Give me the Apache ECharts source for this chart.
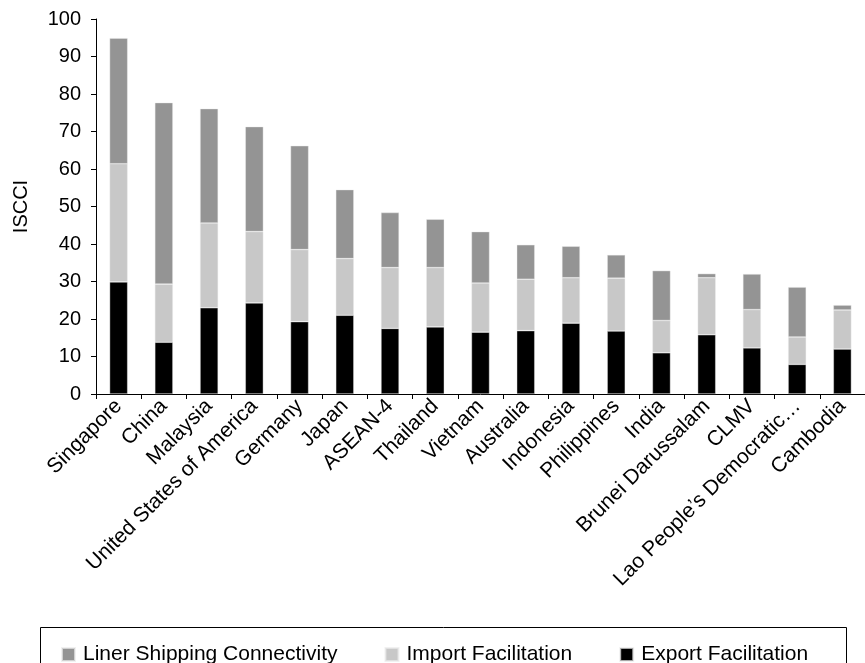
<!DOCTYPE html>
<html>
<head>
<meta charset="utf-8">
<style>
  html, body { margin: 0; padding: 0; background: #ffffff; }
  #chart { width: 865px; height: 663px; }
</style>
<script src="https://cdn.jsdelivr.net/npm/echarts@6/dist/echarts.min.js"></script>
</head>
<body>
<div id="chart"></div>
<script>
// Economies, ordered by overall index
const categories = [
  'Singapore', 'China', 'Malaysia', 'United States of America', 'Germany',
  'Japan', 'ASEAN-4', 'Thailand', 'Vietnam', 'Australia', 'Indonesia',
  'Philippines', 'India', 'Brunei Darussalam', 'CLMV',
  'Lao People\u2019s Democratic\u2026', 'Cambodia'
];

// Component contributions (stacked bottom to top)
const exportFacilitation = [29.9, 13.8, 23.0, 24.3, 19.3, 21.0, 17.5, 17.9, 16.5, 16.9, 18.9, 16.8, 11.0, 15.8, 12.3, 7.9, 12.0];
const importFacilitation = [31.5, 15.5, 22.6, 19.0, 19.2, 15.1, 16.2, 15.8, 13.1, 13.7, 12.1, 14.1, 8.6, 15.2, 10.2, 7.3, 10.4];
const linerShipping = [33.5, 48.4, 30.5, 28.0, 27.7, 18.4, 14.7, 12.9, 13.7, 9.2, 8.4, 6.2, 13.3, 1.1, 9.5, 13.3, 1.3];

const yTicks = { min: 0, max: 100, interval: 10 };

const FONT = '"Liberation Sans", Arial, Helvetica, sans-serif';
const COLORS = { liner: '#949494', import: '#c8c8c8', export: '#000000' };

const chart = echarts.init(document.getElementById('chart'), null, { renderer: 'canvas' });

function barSeries(name, data, color) {
  return {
    name: name,
    type: 'bar',
    stack: 'total',
    data: data,
    barWidth: '40%',
    itemStyle: { color: color, borderColor: 'rgba(235,235,235,0.7)', borderWidth: 0.6 },
    emphasis: { disabled: true }
  };
}

chart.setOption({
  animation: false,
  textStyle: { fontFamily: FONT },
  grid: { left: 96, right: -3, top: 19, bottom: 269, containLabel: false },
  graphic: [{
    type: 'rect',
    shape: { x: 40.5, y: 627.5, width: 806, height: 50 },
    style: { fill: '#ffffff', stroke: '#000000', lineWidth: 1 },
    z: 0
  }],
  legend: {
    data: ['Liner Shipping Connectivity', 'Import Facilitation', 'Export Facilitation'],
    left: 56,
    top: 639,
    icon: 'rect',
    itemWidth: 13,
    itemHeight: 13,
    itemGap: 47,
    selectedMode: false,
    textStyle: { fontFamily: FONT, fontSize: 21, color: '#000000', padding: [0, 0, 0, 3] },
    z: 5
  },
  xAxis: {
    type: 'category',
    data: categories,
    boundaryGap: true,
    axisLine: { lineStyle: { color: '#000000', width: 1 } },
    axisTick: { show: true, length: 5, alignWithLabel: false, lineStyle: { color: '#000000' } },
    axisLabel: {
      interval: 0,
      rotate: 45,
      margin: 9,
      fontSize: 21,
      color: '#000000',
      fontFamily: FONT
    },
    splitLine: { show: false }
  },
  yAxis: {
    type: 'value',
    min: yTicks.min,
    max: yTicks.max,
    interval: yTicks.interval,
    name: 'ISCCI',
    nameLocation: 'middle',
    nameGap: 65,
    nameRotate: 90,
    nameTextStyle: { fontSize: 20, color: '#000000', fontFamily: FONT },
    axisLine: { show: true, lineStyle: { color: '#000000', width: 1 } },
    axisTick: { show: true, length: 5, lineStyle: { color: '#000000' } },
    axisLabel: { margin: 15, fontSize: 20, color: '#000000', fontFamily: FONT },
    splitLine: { show: false }
  },
  series: [
    barSeries('Export Facilitation', exportFacilitation, COLORS.export),
    barSeries('Import Facilitation', importFacilitation, COLORS.import),
    barSeries('Liner Shipping Connectivity', linerShipping, COLORS.liner)
  ]
});
</script>
</body>
</html>
